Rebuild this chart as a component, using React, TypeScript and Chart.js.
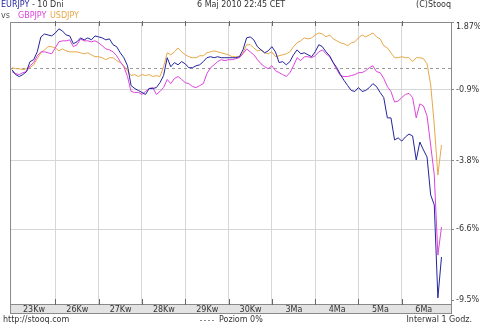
import React, { useEffect, useRef } from "react";
import { Chart, registerables } from "chart.js";

Chart.register(...registerables);

const dayLabels = ["23Kw", "26Kw", "27Kw", "28Kw", "29Kw", "30Kw", "3Ma", "4Ma", "5Ma", "6Ma"];
const yTickValues = [1.87, -0.9, -3.8, -6.6, -9.5];
const yTickLabels = ["1.87%", "-0.9%", "-3.8%", "-6.6%", "-9.5%"];
const pointsPerDay = 12;

const eurjpy = [
  -0.08, -0.28, -0.36, -0.28, -0.16, 0.25, 0.33, 0.65, 1.26, 1.38,
  1.34, 1.30, 1.42, 1.59, 1.50, 1.34, 1.30, 0.98, 1.06, 1.22,
  1.14, 1.22, 1.14, 1.30, 1.26, 1.22, 1.14, 1.18, 0.94, 0.86,
  0.61, 0.41, 0.08, -0.73, -0.85, -0.93, -1.01, -1.09, -0.85, -0.85,
  -0.81, -0.61, -0.32, 0.41, 0.04, 0.21, 0.12, 0.25, 0.16, 0.00,
  0.00, 0.08, 0.12, 0.25, 0.41, 0.45, 0.41, 0.45, 0.41, 0.41,
  0.41, 0.41, 0.41, 0.45, 0.73, 1.22, 1.26, 1.14, 0.86, 0.73,
  0.61, 0.69, 0.86, 0.65, 0.21, 0.25, 0.12, 0.25, 0.53, 0.73,
  0.57, 0.61, 0.53, 0.45, 0.65, 0.94, 0.86, 0.65, 0.49, 0.21,
  0.00, -0.28, -0.52, -0.73, -0.93, -0.97, -0.81, -0.97, -0.93, -0.81,
  -0.65, -0.77, -1.01, -1.22, -2.05, -2.05, -2.95, -2.87, -3.00, -2.83,
  -2.71, -2.79, -3.77, -3.04, -3.36, -3.65, -5.20, -5.61, -9.41, -7.74,
];

const gbpjpy = [
  -0.16, -0.24, -0.28, -0.20, -0.16, 0.08, 0.21, 0.49, 0.65, 0.65,
  0.61, 0.57, 0.81, 1.06, 1.10, 1.10, 1.14, 0.86, 0.94, 1.18,
  1.10, 1.10, 1.06, 1.10, 1.02, 0.90, 0.77, 0.73, 0.65, 0.49,
  0.25, 0.04, -0.36, -0.97, -1.01, -1.01, -1.09, -0.97, -0.85, -0.81,
  -1.09, -0.97, -0.81, -0.48, -0.65, -0.44, -0.36, -0.48, -0.61, -0.65,
  -0.77, -0.81, -0.73, -0.65, -0.24, 0.00, 0.12, 0.25, 0.33, 0.29,
  0.33, 0.33, 0.37, 0.41, 0.57, 0.77, 0.65, 0.53, 0.33, 0.16,
  0.04, -0.04, 0.08, -0.12, -0.20, -0.28, -0.36, -0.20, 0.08, 0.41,
  0.29, 0.45, 0.45, 0.41, 0.49, 0.65, 0.73, 0.57, 0.45, 0.21,
  -0.08, -0.32, -0.36, -0.36, -0.32, -0.28, -0.20, -0.20, -0.12, 0.00,
  0.08, -0.16, -0.20, -0.44, -0.77, -0.97, -1.40, -1.36, -1.22, -1.09,
  -1.05, -1.22, -2.05, -1.48, -1.56, -1.97, -3.16, -4.39, -7.66, -6.51,
];

const usdjpy = [
  0.00, -0.04, -0.04, -0.08, -0.04, 0.00, 0.12, 0.37, 0.61, 0.73,
  0.86, 0.86, 0.81, 0.69, 0.77, 0.69, 0.65, 0.65, 0.65, 0.61,
  0.57, 0.61, 0.53, 0.45, 0.45, 0.41, 0.33, 0.41, 0.41, 0.29,
  0.21, 0.08, -0.12, -0.32, -0.28, -0.36, -0.28, -0.32, -0.28, -0.36,
  -0.32, -0.36, 0.04, 0.61, 0.53, 0.65, 0.81, 0.65, 0.53, 0.45,
  0.41, 0.41, 0.49, 0.49, 0.61, 0.65, 0.69, 0.65, 0.61, 0.57,
  0.53, 0.45, 0.45, 0.45, 0.61, 0.94, 0.94, 0.81, 0.69, 0.73,
  0.61, 0.57, 0.65, 0.45, 0.49, 0.53, 0.57, 0.65, 0.86, 1.02,
  1.10, 1.22, 1.18, 1.22, 1.34, 1.42, 1.38, 1.26, 1.34, 1.18,
  1.10, 1.02, 0.98, 0.90, 1.02, 1.06, 1.22, 1.34, 1.26, 1.34,
  1.42, 1.26, 1.18, 0.90, 0.81, 0.61, 0.41, 0.41, 0.45, 0.41,
  0.41, 0.25, 0.41, 0.41, 0.37, 0.16, -0.69, -2.34, -4.39, -3.16,
];

const COLORS = {
  eur: "#24249e",
  gbp: "#dd44dd",
  usd: "#e8a848",
  text: "#333333",
  grid: "#d6d6d6",
  frame: "#8a8a8a",
};

const FONT = '8px "DejaVu Sans"';

const toPoints = (arr: number[]) => arr.map((v, i) => ({ x: i / pointsPerDay, y: v }));

const decorPlugin = {
  id: "decor",
  beforeDraw(chart: any) {
    const { ctx, chartArea: a } = chart;
    ctx.save();
    ctx.fillStyle = "#ffffff";
    ctx.fillRect(0, 0, chart.width, chart.height);
    ctx.fillStyle = "#e3e3e3";
    ctx.fillRect(a.left, a.bottom, a.right - a.left, 9);
    ctx.restore();
  },
  beforeDatasetsDraw(chart: any) {
    const { ctx, chartArea: a, scales } = chart;
    const y0 = Math.round(scales.y.getPixelForValue(0)) + 0.5;
    ctx.save();
    ctx.strokeStyle = "#9a9a9a";
    ctx.lineWidth = 1;
    ctx.setLineDash([3, 3]);
    ctx.beginPath();
    ctx.moveTo(a.left, y0);
    ctx.lineTo(a.right, y0);
    ctx.stroke();
    ctx.restore();
  },
  afterDraw(chart: any) {
    const { ctx, chartArea: a, scales } = chart;
    ctx.save();
    // frame
    ctx.strokeStyle = COLORS.frame;
    ctx.lineWidth = 1;
    ctx.strokeRect(a.left + 0.5, a.top + 0.5, a.right - a.left, a.bottom - a.top);
    ctx.strokeRect(a.left + 0.5, a.bottom + 0.5, a.right - a.left, 9);
    // inner tick marks at day boundaries
    ctx.strokeStyle = "#666666";
    scales.x.ticks.forEach((t: any) => {
      if (t.value === 0) return;
      const x = Math.round(scales.x.getPixelForValue(t.value)) + 0.5;
      ctx.beginPath();
      ctx.moveTo(x, a.top - 1);
      ctx.lineTo(x, a.top + 4);
      ctx.moveTo(x, a.bottom - 5);
      ctx.lineTo(x, a.bottom + 1);
      ctx.stroke();
    });
    // header texts
    ctx.font = FONT;
    ctx.textBaseline = "middle";
    ctx.textAlign = "left";
    ctx.fillStyle = COLORS.eur;
    ctx.fillText("EURJPY", 1, 5);
    const w1 = ctx.measureText("EURJPY").width;
    ctx.fillStyle = COLORS.text;
    ctx.fillText(" - 10 Dni", 1 + w1, 5);
    ctx.fillStyle = "#555555";
    ctx.fillText("vs", 1, 15.5);
    ctx.fillStyle = COLORS.gbp;
    ctx.fillText("GBPJPY", 18, 15.5);
    ctx.fillStyle = COLORS.usd;
    ctx.fillText("USDJPY", 50, 15.5);
    ctx.fillStyle = COLORS.text;
    ctx.fillText("6 Maj 2010 22:45 CET", 197, 5);
    ctx.textAlign = "right";
    ctx.fillText("(C)Stooq", 451, 5);
    // footer texts
    ctx.textAlign = "left";
    ctx.fillText("http://stooq.com", 3, 319.5);
    ctx.fillText("Poziom 0%", 219, 319.5);
    ctx.textAlign = "right";
    ctx.fillText("Interwal 1 Godz.", 472, 319.5);
    ctx.strokeStyle = "#8a8a8a";
    ctx.setLineDash([2, 2]);
    ctx.beginPath();
    ctx.moveTo(200, 320.5);
    ctx.lineTo(216, 320.5);
    ctx.stroke();
    ctx.restore();
  },
};

export default function App() {
  const canvasRef = useRef<HTMLCanvasElement | null>(null);

  useEffect(() => {
    const canvas = canvasRef.current;
    if (!canvas) return;
    const chart = new Chart(canvas, {
      type: "line",
      data: {
        datasets: [
          { label: "EURJPY", data: toPoints(eurjpy), borderColor: COLORS.eur, borderWidth: 1, pointRadius: 0, tension: 0, fill: false },
          { label: "GBPJPY", data: toPoints(gbpjpy), borderColor: COLORS.gbp, borderWidth: 1, pointRadius: 0, tension: 0, fill: false },
          { label: "USDJPY", data: toPoints(usdjpy), borderColor: COLORS.usd, borderWidth: 1, pointRadius: 0, tension: 0, fill: false },
        ],
      },
      options: {
        animation: false,
        responsive: false,
        devicePixelRatio: 1,
        layout: { padding: { left: 3, top: 22, right: 0, bottom: 13 } },
        plugins: { legend: { display: false }, tooltip: { enabled: false } },
        scales: {
          x: {
            type: "linear",
            min: -2 / 44,
            max: 446 / 44,
            afterBuildTicks: (s: any) => {
              s.ticks = dayLabels.map((_, d) => ({ value: d }));
            },
            afterFit: (s: any) => {
              s.height = 9;
            },
            ticks: {
              autoSkip: false,
              maxRotation: 0,
              labelOffset: 22,
              padding: 1,
              font: { family: "DejaVu Sans", size: 8 },
              color: COLORS.text,
              callback: (v: any) => dayLabels[Math.round(Number(v))] ?? "",
            },
            grid: {
              drawTicks: false,
              tickLength: 0,
              color: (c: any) => (c.tick && c.tick.value === 0 ? "rgba(0,0,0,0)" : COLORS.grid),
            },
            border: { display: false },
          },
          y: {
            type: "linear",
            position: "right",
            min: -9.66,
            max: 1.87,
            afterBuildTicks: (s: any) => {
              s.ticks = yTickValues.map((v) => ({ value: v }));
            },
            afterFit: (s: any) => {
              s.width = 29;
            },
            ticks: {
              padding: 2,
              font: { family: "DejaVu Sans", size: 8 },
              color: COLORS.text,
              callback: (v: any) => {
                const idx = yTickValues.indexOf(Number(v));
                if (idx === 0) return ["", yTickLabels[0]];
                return idx >= 0 ? yTickLabels[idx] : "";
              },
            },
            grid: {
              drawTicks: true,
              tickLength: 3,
              tickColor: COLORS.frame,
              color: (c: any) =>
                c.tick && (c.tick.value === 1.87 || c.tick.value === -9.5) ? "rgba(0,0,0,0)" : COLORS.grid,
            },
            border: { display: false },
          },
        },
      },
      plugins: [decorPlugin],
    });
    return () => chart.destroy();
  }, []);

  return (
    <div style={{ position: "absolute", left: 0, top: 0, width: 480, height: 326 }}>
      <canvas ref={canvasRef} width={480} height={326} style={{ display: "block" }} />
    </div>
  );
}
